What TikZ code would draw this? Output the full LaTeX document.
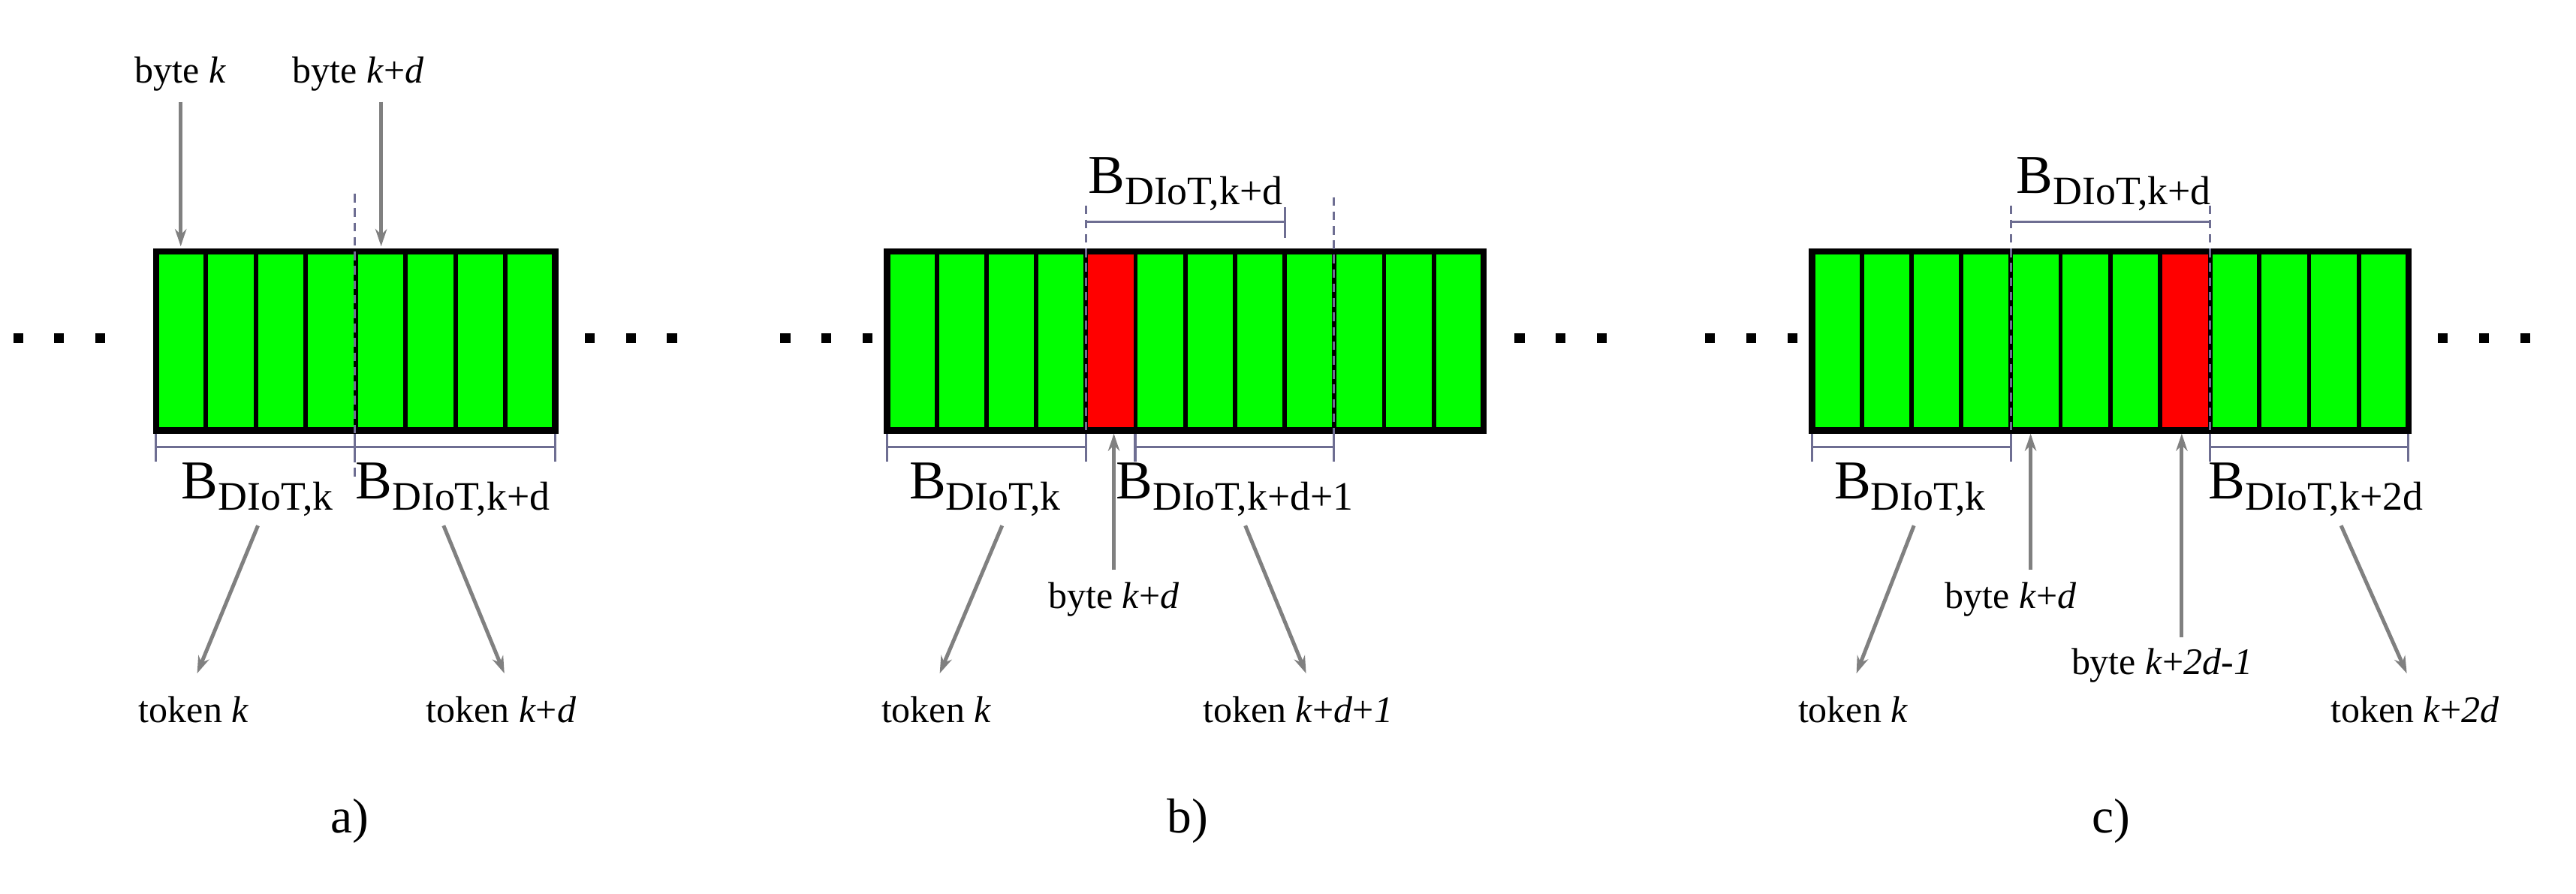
\documentclass[tikz,border=0pt]{standalone}
\usepackage{fontspec}
\setmainfont{Liberation Serif}
\usetikzlibrary{arrows.meta}
\definecolor{dimc}{HTML}{6E6E92}
\definecolor{grn}{HTML}{00FF00}
\tikzset{
  txt/.style={font=\fontsize{13}{15}\selectfont, inner sep=1pt},
  blab/.style={font=\fontsize{19}{21}\selectfont, inner sep=1pt},
  arr/.style={draw=gray, line width=1.3pt, -{Stealth[length=6pt,width=4pt]}},
  dim/.style={draw=dimc, line width=0.8pt},
  dsh/.style={draw=dimc, line width=0.8pt, dash pattern=on 3pt off 2pt},
  cellg/.style={fill=grn, draw=black, line width=1.5pt},
  cellr/.style={fill=red, draw=black, line width=1.5pt},
  frame/.style={draw=black, line width=2.2pt}
}
\newcommand{\Bl}[1]{B\textsubscript{\fontsize{14}{16}\selectfont DIoT,#1}}
\begin{document}
\begin{tikzpicture}[x=0.02cm,y=-0.02cm]
\useasboundingbox (0,0) rectangle (1568,544);
% ---------- panel a ----------
\foreach \i in {0,...,7} \draw[cellg] (95+\i*30.375,153) rectangle ++(30.375,109);
\draw[frame] (95,153) rectangle (338,262);
\draw[dsh] (216,118) -- (216,290);
\draw[dim] (95,272) -- (338,272);
\foreach \x in {95,216,338} \draw[dim] (\x,264) -- (\x,281);
\foreach \x in {8,33,58} \fill (\x,203) rectangle ++(6,6);
\foreach \x in {356,381,406} \fill (\x,203) rectangle ++(6,6);
\node[txt] (ba) at (110,45) {byte \textit{k}};
\node[txt] (bad) at (218,45) {byte \textit{k}+\textit{d}};
\coordinate (ta1) at (110,150); \coordinate (ta2) at (232,150);
\draw[arr] (110,62) -- (ta1);
\draw[arr] (232,62) -- (ta2);
\node[blab] (Ba1) at (157,298) {\Bl{k}};
\node[blab] (Ba2) at (276,298) {\Bl{k+d}};
\node[txt] (Ta1) at (118,432) {token \textit{k}};
\node[txt] (Ta2) at (305,432) {token \textit{k}+\textit{d}};
\draw[arr] (157,320) -- (120,410);
\draw[arr] (270,320) -- (307,410);
\node[font=\fontsize{17}{19}\selectfont] (la) at (213,500) {a)};
% ---------- panel b ----------
\foreach \i in {0,...,11} \draw[cellg] (540+\i*30.25,153) rectangle ++(30.25,109);
\draw[cellr] (661,153) rectangle ++(30.25,109);
\draw[frame] (540,153) rectangle (903,262);
\draw[dsh] (661,125) -- (661,280);
\draw[dsh] (812,120) -- (812,280);
\draw[dim] (661,135) -- (782,135); \draw[dim] (782,126) -- (782,145);
\draw[dim] (540,272) -- (661,272);
\draw[dim] (691,272) -- (812,272);
\foreach \x in {540,661,691,812} \draw[dim] (\x,264) -- (\x,281);
\foreach \x in {475,500,525} \fill (\x,203) rectangle ++(6,6);
\foreach \x in {922,947,972} \fill (\x,203) rectangle ++(6,6);
\node[blab] (Bb0) at (722,112) {\Bl{k+d}};
\node[blab] (Bb1) at (600,298) {\Bl{k}};
\node[blab] (Bb2) at (752,298) {\Bl{k+d+1}};
\node[txt] (bbd) at (678,365) {byte \textit{k}+\textit{d}};
\coordinate (tb) at (678,264);
\draw[arr] (678,347) -- (tb);
\node[txt] (Tb1) at (570,432) {token \textit{k}};
\node[txt] (Tb2) at (790,432) {token \textit{k}+\textit{d}+\textit{1}};
\draw[arr] (610,320) -- (572,410);
\draw[arr] (758,320) -- (795,410);
\node[font=\fontsize{17}{19}\selectfont] (lb) at (723,500) {b)};
% ---------- panel c ----------
\foreach \i in {0,...,11} \draw[cellg] (1103+\i*30.25,153) rectangle ++(30.25,109);
\draw[cellr] (1315,153) rectangle ++(30.25,109);
\draw[frame] (1103,153) rectangle (1466,262);
\draw[dsh] (1224,125) -- (1224,280);
\draw[dsh] (1345,125) -- (1345,280);
\draw[dim] (1224,135) -- (1345,135);
\draw[dim] (1103,272) -- (1224,272);
\draw[dim] (1345,272) -- (1466,272);
\foreach \x in {1103,1224,1345,1466} \draw[dim] (\x,264) -- (\x,281);
\foreach \x in {1038,1063,1088} \fill (\x,203) rectangle ++(6,6);
\foreach \x in {1484,1509,1534} \fill (\x,203) rectangle ++(6,6);
\node[blab] (Bc0) at (1287,112) {\Bl{k+d}};
\node[blab] (Bc1) at (1163,298) {\Bl{k}};
\node[blab] (Bc2) at (1410,298) {\Bl{k+2d}};
\node[txt] (bcd) at (1224,365) {byte \textit{k}+\textit{d}};
\node[txt] (bcd2) at (1316,405) {byte \textit{k}+\textit{2d-1}};
\coordinate (tc1) at (1236,264); \coordinate (tc2) at (1328,264);
\draw[arr] (1236,347) -- (tc1);
\draw[arr] (1328,388) -- (tc2);
\node[txt] (Tc1) at (1128,432) {token \textit{k}};
\node[txt] (Tc2) at (1470,432) {token \textit{k}+\textit{2d}};
\draw[arr] (1165,320) -- (1130,410);
\draw[arr] (1425,320) -- (1465,410);
\node[font=\fontsize{17}{19}\selectfont] (lc) at (1285,500) {c)};
\end{tikzpicture}
\end{document}
